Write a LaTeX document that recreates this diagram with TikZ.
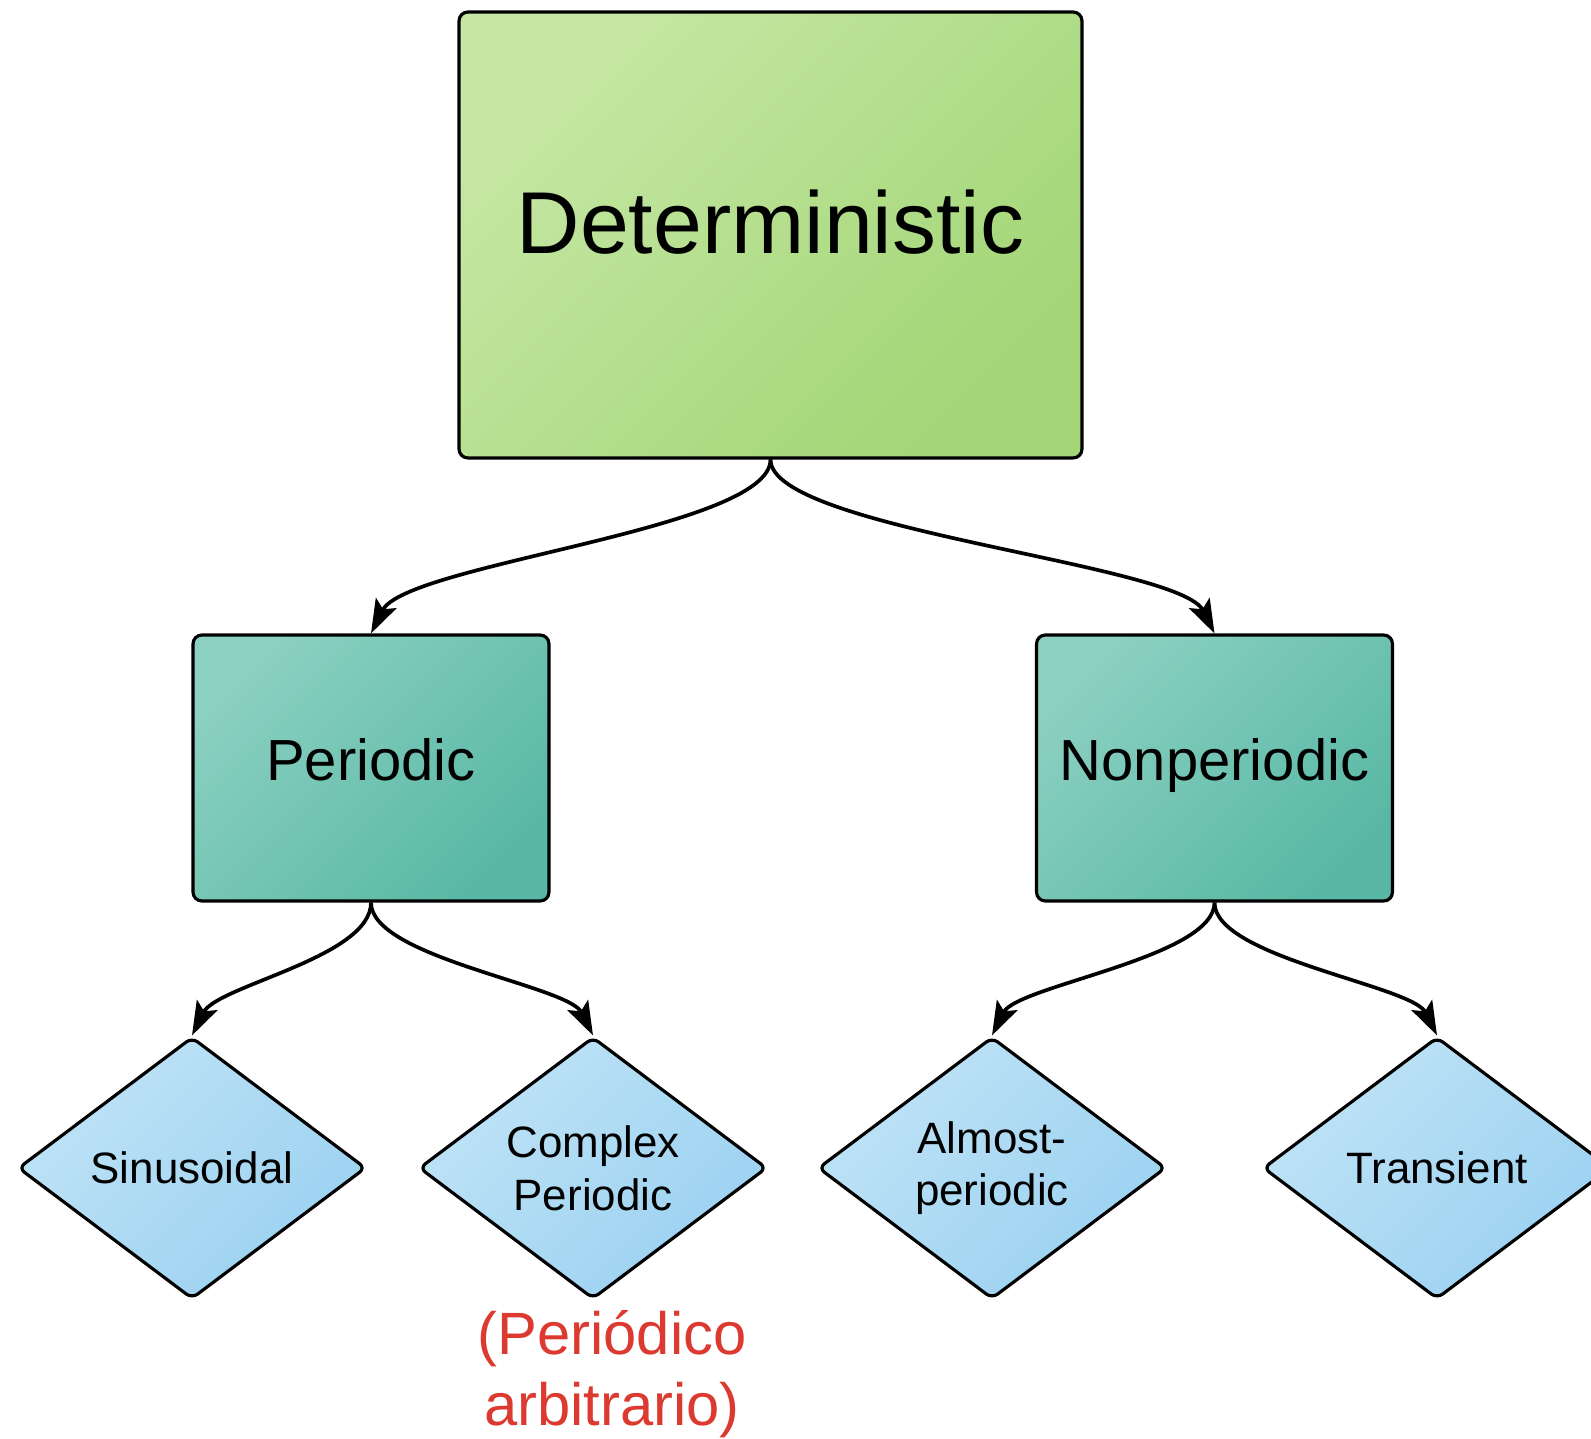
\documentclass[tikz,border=0pt]{standalone}
\usepackage{fontspec}
\setmainfont{Liberation Sans}
\usetikzlibrary{shapes.geometric,arrows.meta,positioning}

\definecolor{detlight}{HTML}{C6E7A4}
\definecolor{detdark}{HTML}{A2D676}
\definecolor{perlight}{HTML}{8BD0C1}
\definecolor{perdark}{HTML}{59B8A5}
\definecolor{leaflight}{HTML}{BFE3F6}
\definecolor{leafdark}{HTML}{9BD1F1}
\definecolor{notered}{HTML}{DC3A30}

\tikzset{
  link/.style={line width=2.1pt, -{Stealth[length=0.68cm,width=0.46cm,inset=0.14cm]}},
  topbox/.style={draw=black, line width=1.8pt, rounded corners=5pt,
    top color=detlight, bottom color=detdark, shading angle=45,
    minimum width=12.46cm, minimum height=8.92cm,
    font=\fontsize{50pt}{60pt}\selectfont, text height=36pt, text depth=15pt},
  midbox/.style={draw=black, line width=1.8pt, rounded corners=5pt,
    top color=perlight, bottom color=perdark, shading angle=45,
    minimum width=7.12cm, minimum height=5.32cm,
    font=\fontsize{33pt}{40pt}\selectfont, text height=24pt, text depth=9.6pt},
  leaf/.style={diamond, draw=black, line width=1.8pt, rounded corners=4pt,
    top color=leaflight, bottom color=leafdark, shading angle=45,
    minimum width=6.96cm, minimum height=5.24cm, inner sep=0pt,
    align=center, font=\fontsize{25pt}{30pt}\selectfont},
  remark/.style={text=notered, align=center, font=\fontsize{34pt}{40.4pt}\selectfont}
}

\begin{document}
\begin{tikzpicture}[x=0.02cm, y=0.02cm]
\useasboundingbox (0,0) rectangle (1591,1438);

% boxes
\node[topbox] (det) at (770.5,1203) {Deterministic};
\node[midbox] (per) at (371,670) {Periodic};
\node[midbox] (nonper) at (1214.5,670) {Nonperiodic};

% leaves
\node[leaf] (sin) at (192,270) {Sinusoidal};
\node[leaf] (cper) at (593,270) {Complex\\Periodic};
\node[leaf] (almost) at (992,270) {Almost-\\periodic};
\node[leaf] (trans) at (1437,270) {Transient};

\node[remark] (note) at (612,64) {(Periódico\\arbitrario)};

% links
\draw[link] (det.south) .. controls +(0,-70) and +(35,70) .. (per.north);
\draw[link] (det.south) .. controls +(0,-70) and +(-35,70) .. (nonper.north);
\draw[link] (per.south) .. controls +(0,-55) and +(25,50) .. (sin.north);
\draw[link] (per.south) .. controls +(0,-55) and +(-25,50) .. (cper.north);
\draw[link] (nonper.south) .. controls +(0,-55) and +(25,50) .. (almost.north);
\draw[link] (nonper.south) .. controls +(0,-55) and +(-25,50) .. (trans.north);
\end{tikzpicture}
\end{document}
